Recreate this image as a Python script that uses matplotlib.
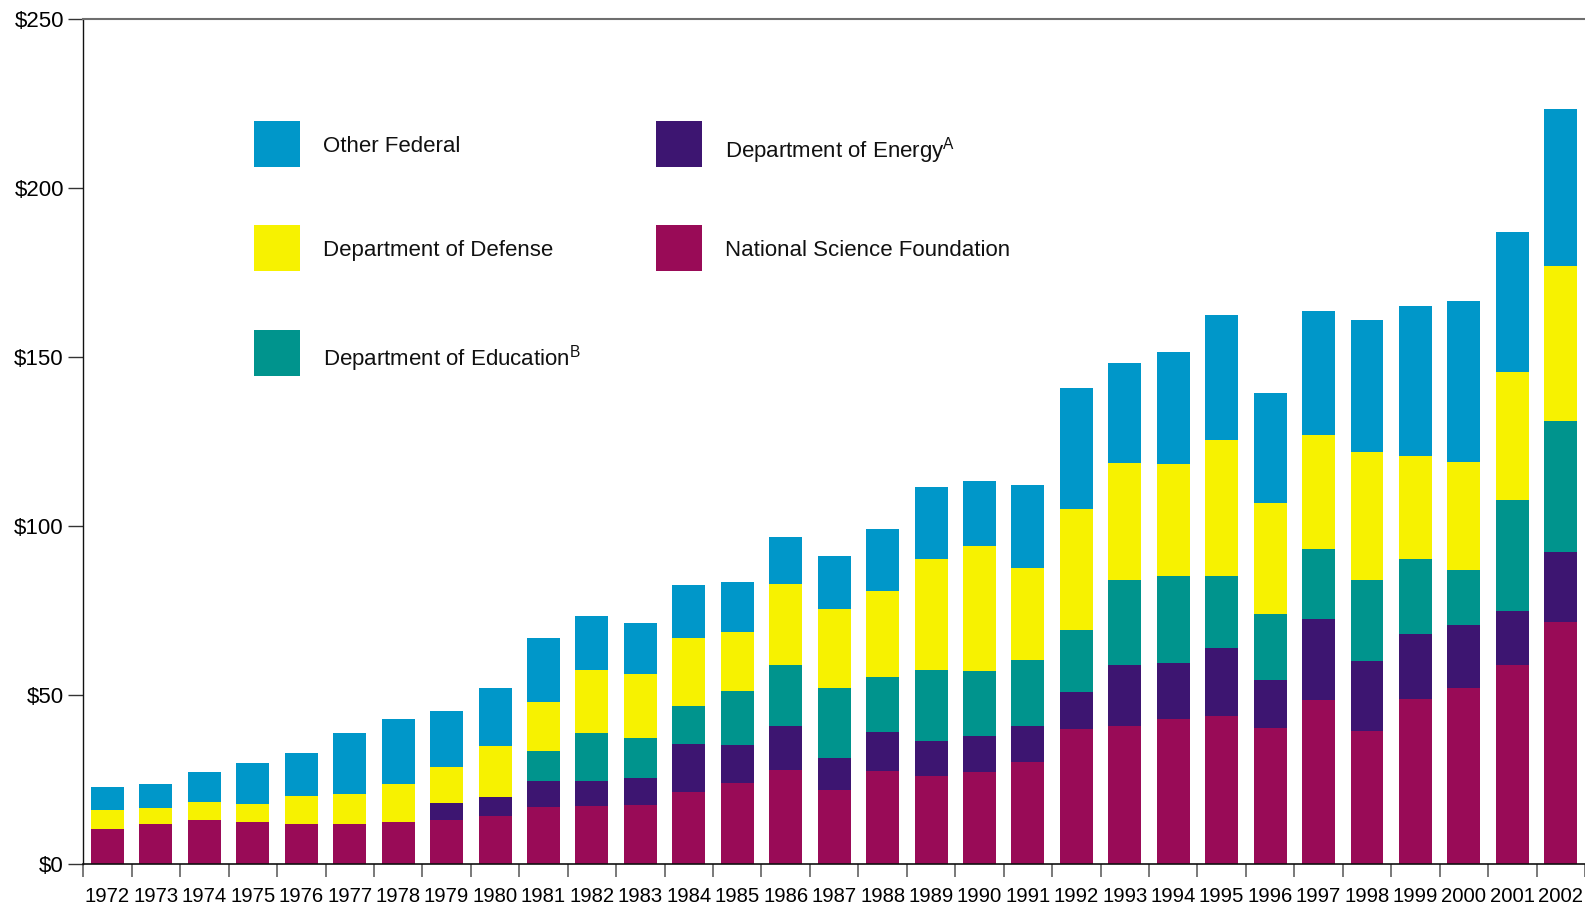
import numpy as np
import matplotlib
matplotlib.use("Agg")
import matplotlib.pyplot as plt
from matplotlib.patches import Rectangle

# ==========================================
#              DATA
# ==========================================
years = list(range(1972, 2003))

nsf = [10.4, 11.9, 13.1, 12.5, 11.9, 11.9, 12.5, 13.1, 14.3, 16.9,
       17.2, 17.5, 21.3, 24.0, 27.8, 21.9, 27.5, 26.1, 27.3, 30.2,
       40.0, 41.0, 43.0, 44.0, 40.3, 48.5, 39.3, 49.0, 52.0, 58.8, 71.7]
energy = [0, 0, 0, 0, 0, 0, 0, 5.0, 5.6, 7.7,
          7.4, 7.9, 14.2, 11.2, 13.0, 9.5, 11.5, 10.3, 10.6, 10.8,
          10.9, 18.0, 16.6, 20.1, 14.3, 24.1, 20.7, 19.0, 18.9, 16.2, 20.8]
education = [0, 0, 0, 0, 0, 0, 0, 0, 0, 8.9,
             14.1, 12.1, 11.2, 16.2, 18.0, 20.7, 16.5, 21.2, 19.4, 19.5,
             18.3, 25.0, 25.7, 21.1, 19.3, 20.7, 24.2, 22.3, 16.2, 32.8, 38.6]
defense = [5.6, 4.8, 5.3, 5.3, 8.3, 8.9, 11.2, 10.6, 15.1, 14.5,
           18.9, 18.9, 20.1, 17.2, 24.0, 23.3, 25.4, 32.8, 36.7, 27.2,
           35.9, 34.7, 33.1, 40.2, 32.9, 33.6, 37.7, 30.5, 31.8, 37.7, 45.9]
other = [6.8, 7.0, 8.9, 12.2, 12.7, 18.0, 19.2, 16.6, 17.1, 18.9,
         15.7, 15.0, 15.7, 14.8, 14.1, 15.9, 18.3, 21.2, 19.4, 24.5,
         35.9, 29.5, 33.0, 37.0, 32.5, 36.6, 39.2, 44.2, 47.7, 41.4, 46.3]

y_ticks = [0, 50, 100, 150, 200, 250]
y_tick_labels = ["$0", "$50", "$100", "$150", "$200", "$250"]

# bottom -> top stacking order
series = [
    ("National Science Foundation", nsf, "#990b57"),
    ("Department of Energy$^{\\mathrm{A}}$", energy, "#3d1571"),
    ("Department of Education$^{\\mathrm{B}}$", education, "#00948d"),
    ("Department of Defense", defense, "#f7f200"),
    ("Other Federal", other, "#0097c9"),
]

# ==========================================
#              STYLE
# ==========================================
plt.rcParams['font.family'] = ['Liberation Sans', 'DejaVu Sans']
plt.rcParams['mathtext.fontset'] = 'custom'
plt.rcParams['mathtext.rm'] = 'Liberation Sans'

W, H = 1585, 906
fig = plt.figure(figsize=(W / 100, H / 100), dpi=100)
ax = fig.add_axes([83.3 / W, 1 - 864.3 / H, 1 - 83.3 / W, (864.3 - 19) / H])

x = np.arange(len(years))
bottom = np.zeros(len(years))
for name, vals, col in series:
    vals = np.array(vals, dtype=float)
    ax.bar(x, vals, width=0.68, bottom=bottom, color=col, linewidth=0)
    bottom += vals

ax.set_xlim(-0.5, len(years) - 0.5)
ax.set_ylim(0, 250)

# y axis
ax.set_yticks(y_ticks)
ax.set_yticklabels(y_tick_labels, fontsize=16)
ax.tick_params(axis='y', direction='out', length=11, width=1, color='#333333', pad=3)

# x axis: labels centred, tick marks on category boundaries
ax.set_xticks(x)
ax.set_xticklabels([str(y) for y in years], fontsize=14.6)
ax.set_xticks(np.arange(-0.5, len(years), 1.0), minor=True)
ax.tick_params(axis='x', which='major', length=0, pad=16)
ax.tick_params(axis='x', which='minor', direction='out', length=9.6, width=1.1, color='#555555')

ax.spines['right'].set_visible(False)
ax.spines['top'].set_color('#6e6e6e')
ax.spines['top'].set_linewidth(1.5)
ax.spines['left'].set_color('#111111')
ax.spines['left'].set_linewidth(1.0)
ax.spines['bottom'].set_color('#111111')
ax.spines['bottom'].set_linewidth(1.2)

# ==========================================
#              LEGEND (hand placed)
# ==========================================
def fx(px):
    return px / W

def fy(py):
    return 1 - py / H

# (index into series, square left, square top, text baseline) in pixels
legend_items = [
    (4, 254, 121, 152),
    (3, 254, 225, 256),
    (2, 254, 330, 365),
    (1, 656, 121, 157),
    (0, 656, 225, 256),
]
for idx, sx, sy, base in legend_items:
    name, _, col = series[idx]
    fig.add_artist(Rectangle((fx(sx), fy(sy + 46)), 46 / W, 46 / H,
                             transform=fig.transFigure, facecolor=col,
                             edgecolor='none'))
    fig.text(fx(sx + 69), fy(base), name, fontsize=16, va='baseline',
             ha='left', color='#111111')

fig.savefig("out.png", dpi=100)
